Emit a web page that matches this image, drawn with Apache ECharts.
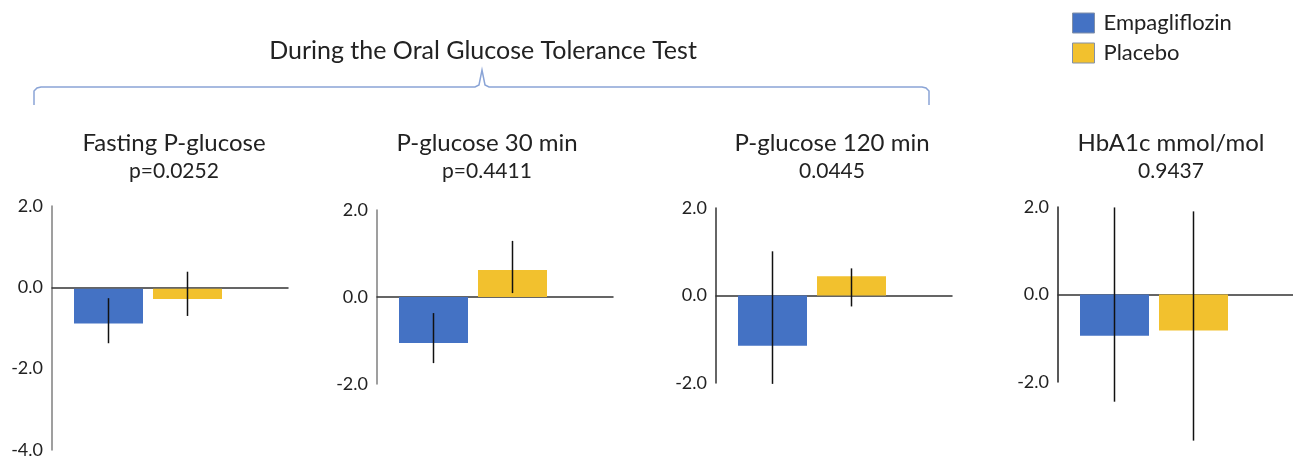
<!DOCTYPE html>
<html>
<head>
<meta charset="utf-8">
<title>Empagliflozin vs Placebo</title>
<script src="https://cdn.jsdelivr.net/npm/echarts@6/dist/echarts.min.js"></script>
<style>
    html, body { margin: 0; padding: 0; background: #fff; }
    #main { width: 1293px; height: 459px; }
</style>
</head>
<body>
<div id="main"></div>
<script>
// data (change from baseline)
const panelNames = ['Fasting P-glucose', 'P-glucose 30 min', 'P-glucose 120 min', 'HbA1c mmol/mol'];
const pValues = ['p=0.0252', 'p=0.4411', '0.0445', '0.9437'];
const groups = ['Empagliflozin', 'Placebo'];
const empaMean = [-0.84, -1.06, -1.15, -0.94];
const empaLow = [-1.32, -1.52, -2.02, -2.45];
const empaHigh = [-0.23, -0.37, 1.01, 1.99];
const placeboMean = [-0.25, 0.62, 0.44, -0.82];
const placeboLow = [-0.66, 0.09, -0.25, -3.34];
const placeboHigh = [0.41, 1.29, 0.62, 1.90];
const yMin = [-4, -2, -2, -2];
const yMax = [2, 2, 2, 2];
const yStep = 2;
const bracketTitle = 'During the Oral Glucose Tolerance Test';

// layout / style
const font = 'Lato';
const colors = ['#4472C4', '#F2C12E'];
const axisLeft = [52, 377, 716, 1058];
const titleX = [169, 482, 827, 1166];
const gridTop = [206, 210, 208, 207];
const gridBottom = [5, 75, 76, 77];
const yAxisColor = ['#7f7f7f', '#7f7f7f', '#333', '#222'];

let grids = [], xAxes = [], yAxes = [], series = [], titles = [];

titles.push({
    text: bracketTitle, left: 478, top: 33, textAlign: 'center',
    textStyle: { fontFamily: font, fontSize: 25, fontWeight: 'normal', color: '#222' }
});

function errorItem(params, api) {
    let a = api.coord([api.value(0), api.value(1)]);
    let b = api.coord([api.value(0), api.value(2)]);
    return {
        type: 'line',
        shape: { x1: a[0], y1: a[1], x2: b[0], y2: b[1] },
        style: { stroke: '#111', lineWidth: 1.5 }
    };
}

panelNames.forEach(function (name, i) {
    // frame grid: y axis with labels + zero line
    grids.push({ left: axisLeft[i], width: 236, top: gridTop[i], bottom: gridBottom[i] });
    // bar grid
    grids.push({ left: axisLeft[i] + 17, width: 158, top: gridTop[i], bottom: gridBottom[i] });
    let f = i * 2, b = i * 2 + 1;

    xAxes.push({
        gridIndex: f, type: 'category', data: [''],
        axisLine: { onZero: true, lineStyle: { color: '#333', width: 1.5 } },
        axisTick: { show: false }, axisLabel: { show: false }
    });
    yAxes.push({
        gridIndex: f, type: 'value', min: yMin[i], max: yMax[i], interval: yStep,
        axisLine: { show: true, lineStyle: { color: yAxisColor[i], width: 1.5 } },
        axisTick: { show: false }, splitLine: { show: false },
        axisLabel: {
            margin: 9, fontFamily: font, fontSize: 18, color: '#222',
            formatter: function (v) { return v.toFixed(1); }
        }
    });
    xAxes.push({ gridIndex: b, type: 'category', data: groups, show: false });
    yAxes.push({ gridIndex: b, type: 'value', min: yMin[i], max: yMax[i], interval: yStep, show: false });

    series.push({
        name: groups[0], type: 'bar', xAxisIndex: b, yAxisIndex: b, stack: 'p' + i,
        barWidth: 69, itemStyle: { color: colors[0] }, data: [empaMean[i], '-']
    });
    series.push({
        name: groups[1], type: 'bar', xAxisIndex: b, yAxisIndex: b, stack: 'p' + i,
        barWidth: 69, itemStyle: { color: colors[1] }, data: ['-', placeboMean[i]]
    });
    series.push({
        type: 'custom', xAxisIndex: b, yAxisIndex: b, clip: false, z: 5,
        renderItem: errorItem,
        data: [[0, empaLow[i], empaHigh[i]], [1, placeboLow[i], placeboHigh[i]]]
    });

    titles.push({
        text: name, subtext: pValues[i], left: titleX[i], top: 126, textAlign: 'center', itemGap: 6,
        textStyle: { fontFamily: font, fontSize: 24, fontWeight: 'normal', color: '#222' },
        subtextStyle: { fontFamily: font, fontSize: 21, color: '#222' }
    });
});

let myChart = echarts.init(document.getElementById('main'));
myChart.setOption({
    animation: false,
    title: titles,
    legend: {
        data: groups, orient: 'vertical', left: 1067, top: 7,
        itemWidth: 22, itemHeight: 20, itemGap: 8, icon: 'rect', selectedMode: false,
        itemStyle: { borderColor: '#8290a8', borderWidth: 1 },
        textStyle: { fontFamily: font, fontSize: 22, color: '#222', padding: [0, 0, 0, 4] }
    },
    grid: grids,
    xAxis: xAxes,
    yAxis: yAxes,
    series: series,
    graphic: [{
        type: 'polyline',
        shape: { points: [[34, 105], [34, 91], [37, 88], [41, 87], [475, 87], [479, 85], [482, 70],
                          [485, 85], [489, 87], [922, 87], [926, 88], [929, 91], [929, 105]] },
        style: { stroke: '#8aa4d6', lineWidth: 1.5, fill: null }
    }]
});
</script>
</body>
</html>
